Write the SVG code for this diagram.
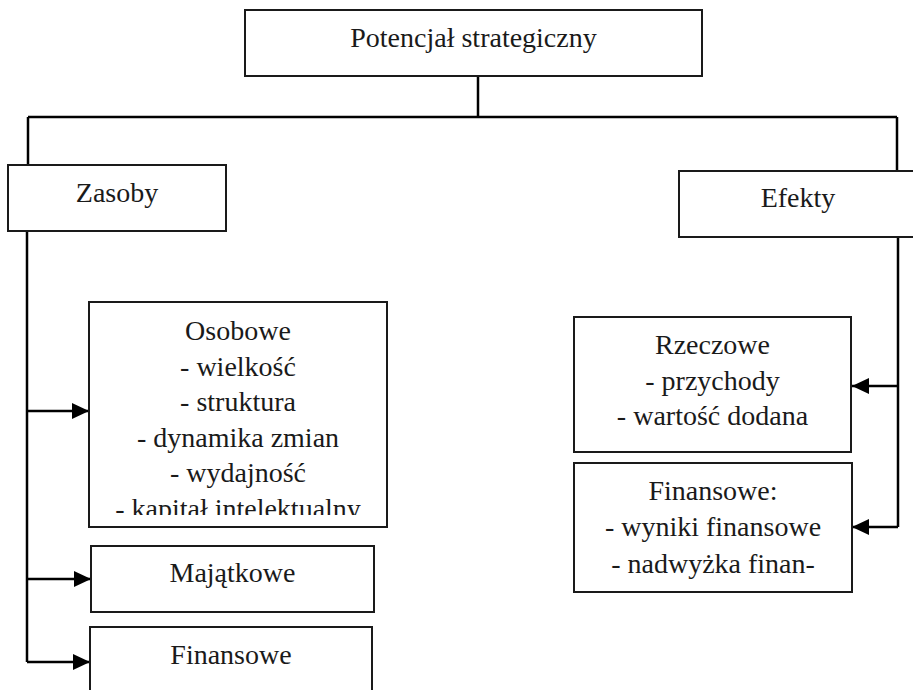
<svg xmlns="http://www.w3.org/2000/svg" width="913" height="690" viewBox="0 0 913 690">
  <style>
    .box { fill: #ffffff; stroke: #1a1a1a; stroke-width: 2; }
    .conn { fill: none; stroke: #000000; stroke-width: 2.5; }
    .t { font-family: "Liberation Serif", "Times New Roman", serif; font-size: 28px; fill: #1a1a1a; text-anchor: middle; }
  </style>
  <defs>
    <marker id="arrow" markerUnits="userSpaceOnUse" markerWidth="18" markerHeight="16" refX="17" refY="8" orient="auto">
      <path d="M0,0 L17,8 L0,16 Z" fill="#000000"/>
    </marker>
    <clipPath id="clipOsob">
      <rect x="90" y="303" width="296" height="212"/>
    </clipPath>
  </defs>
  <rect width="913" height="690" fill="#ffffff"/>

  <g id="connectors">
    <path class="conn" d="M478,76 L478,117"/>
    <path class="conn" d="M28,117 L897,117"/>
    <path class="conn" d="M28,117 L28,165"/>
    <path class="conn" d="M897,117 L897,171"/>
    <path class="conn" d="M27,231 L27,662"/>
    <path class="conn" d="M27,411 L89,411" marker-end="url(#arrow)"/>
    <path class="conn" d="M27,579 L91,579" marker-end="url(#arrow)"/>
    <path class="conn" d="M27,662 L90,662" marker-end="url(#arrow)"/>
    <path class="conn" d="M898,237 L898,527"/>
    <path class="conn" d="M898,386 L852,386" marker-end="url(#arrow)"/>
    <path class="conn" d="M898,527 L852,527" marker-end="url(#arrow)"/>
  </g>

  <g id="node-potencjal">
    <rect class="box" x="245" y="10" width="457" height="66"/>
    <text class="t" x="473.5" y="47">Potencjał strategiczny</text>
  </g>

  <g id="node-zasoby">
    <rect class="box" x="8" y="165" width="218" height="66"/>
    <text class="t" x="117" y="202">Zasoby</text>
  </g>

  <g id="node-efekty">
    <rect class="box" x="679" y="171" width="240" height="66"/>
    <text class="t" x="798" y="207">Efekty</text>
  </g>

  <g id="node-osobowe">
    <rect class="box" x="89" y="302" width="298" height="225"/>
    <g clip-path="url(#clipOsob)">
      <text class="t" x="238" y="340">Osobowe</text>
      <text class="t" x="238" y="375.5">- wielkość</text>
      <text class="t" x="238" y="411">- struktura</text>
      <text class="t" x="238" y="446.5">- dynamika zmian</text>
      <text class="t" x="238" y="482">- wydajność</text>
      <text class="t" x="238" y="517.5">- kapitał intelektualny</text>
    </g>
  </g>

  <g id="node-majatkowe">
    <rect class="box" x="91" y="546" width="283" height="66"/>
    <text class="t" x="232.5" y="582">Majątkowe</text>
  </g>

  <g id="node-finansowe-zasoby">
    <path class="box" d="M90,692 L90,627 L372,627 L372,692"/>
    <text class="t" x="231" y="664">Finansowe</text>
  </g>

  <g id="node-rzeczowe">
    <rect class="box" x="574" y="317" width="277" height="135"/>
    <text class="t" x="712.5" y="354">Rzeczowe</text>
    <text class="t" x="712.5" y="390">- przychody</text>
    <text class="t" x="712.5" y="425">- wartość dodana</text>
  </g>

  <g id="node-finansowe-efekty">
    <rect class="box" x="574" y="463" width="278" height="129"/>
    <text class="t" x="713" y="500">Finansowe:</text>
    <text class="t" x="713" y="536">- wyniki finansowe</text>
    <text class="t" x="713" y="573">- nadwyżka finan-</text>
  </g>
</svg>
